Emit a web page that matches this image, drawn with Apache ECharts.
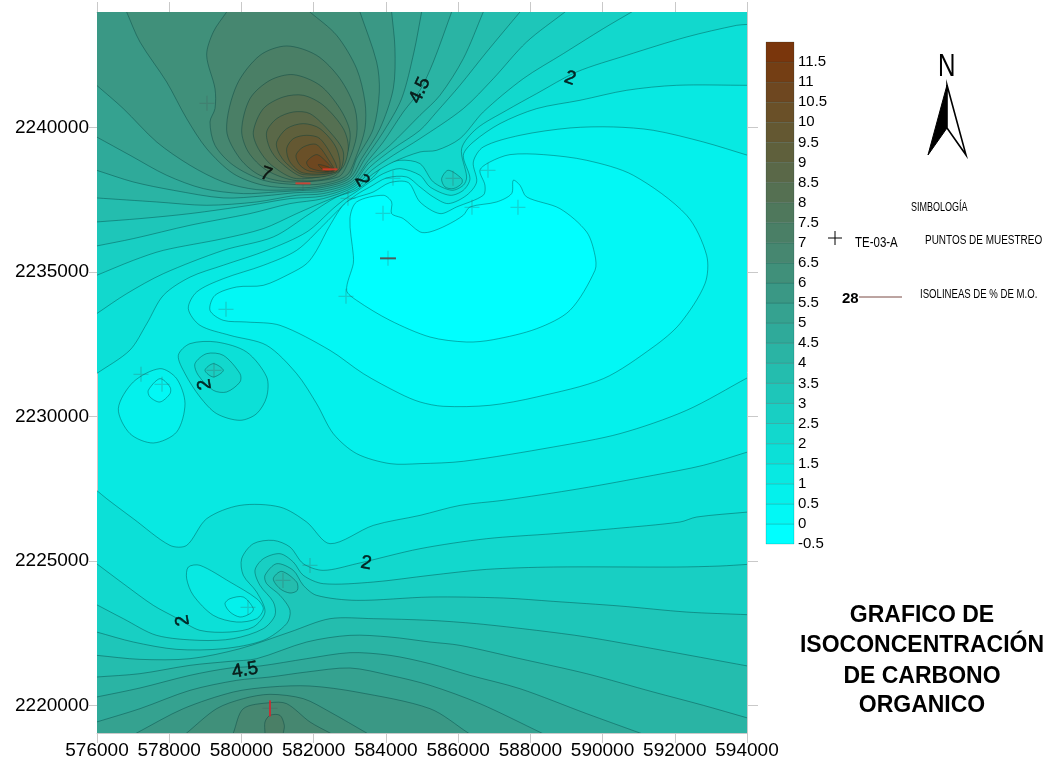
<!DOCTYPE html>
<html>
<head>
<meta charset="utf-8">
<title>Isoconcentracion de carbono organico</title>
<script src="https://cdn.jsdelivr.net/npm/echarts@6/dist/echarts.min.js"></script>
<style>
html, body { margin: 0; padding: 0; background: #fff; }
#main { width: 1048px; height: 763px; }
</style>
</head>
<body>
<div id="main"></div>
<script>
// axis ranges and ticks
var xTicks = [576000, 578000, 580000, 582000, 584000, 586000, 588000, 590000, 592000, 594000];
var yTicks = [2220000, 2225000, 2230000, 2235000, 2240000];
var xMin = 576000, xMax = 594000, yMin = 2219046, yMax = 2243990;

// colour scale levels (lower edge of every band)
var bandLevels = [-0.5, 0, 0.5, 1, 1.5, 2, 2.5, 3, 3.5, 4, 4.5, 5, 5.5, 6, 6.5, 7, 7.5, 8, 8.5, 9, 9.5, 10, 10.5, 11, 11.5];
var bandColors = ['#00ffff', '#02f8f5', '#04f1ec', '#08e9e2', '#0ce0d7', '#12d8cd', '#18cfc3', '#1ec6b9', '#24bdae', '#2ab4a4',
    '#2faa9a', '#35a290', '#3a9885', '#40907a', '#468770', '#4a7f66', '#4f785c', '#557052', '#5a6848', '#5f603c',
    '#645832', '#6a5028', '#6e4720', '#743e14', '#7a360c'];

// isolines, [easting, northing]
var iso0 = [[589790,2235573],[589559,2236381],[588820,2237188],[587897,2237591],[587713,2237995],[587528,2238168],[587482,2237707],[587067,2237418],[586328,2237245],[586144,2236957],[585682,2236611],[585221,2236381],[584944,2236381],[584482,2236842],[584159,2237015],[584159,2237418],[583928,2237649],[583190,2237418],[583005,2236842],[583098,2235573],[583098,2235283],[582913,2234360],[583190,2234014],[584113,2233323],[585221,2232746],[586236,2232573],[586975,2232654],[588175,2233034],[589098,2233669],[589790,2235052]];
var iso05 = [[587436,2239056],[588359,2239056],[589559,2238860],[590851,2238341],[592328,2236957],[592882,2235573],[592836,2234591],[592143,2233207],[591405,2232400],[590021,2231305],[588175,2230671],[586882,2230383],[585590,2230348],[584944,2230498],[584390,2230786],[583375,2231478],[582452,2232285],[581067,2233150],[580144,2233265],[579498,2233323],[579129,2233669],[579267,2234187],[579867,2234476],[580606,2234533],[581344,2234937],[581806,2235283],[582082,2235744],[582452,2236611],[582913,2237418],[583652,2237764],[584113,2238087],[584621,2238087],[584944,2237418],[585498,2237015],[585959,2237245],[586697,2237649],[586743,2237995],[586605,2238514],[586882,2238802]];
var iso1 = [[594017,2239033],[592789,2239494],[591405,2239897],[590297,2240013],[589097,2239978],[587713,2239724],[586697,2239321],[586421,2238802],[586513,2238110],[586236,2237649],[585728,2237361],[585313,2237591],[584944,2237937],[584574,2238283],[584021,2238249],[583559,2237937],[583190,2237672],[582821,2237303],[582267,2236611],[581529,2235744],[580606,2235225],[579498,2234764],[578760,2234303],[578529,2233726],[578852,2233150],[579683,2232804],[580698,2232458],[581529,2231478],[582082,2230440],[582544,2229402],[583190,2228711],[584113,2228365],[584944,2228365],[586144,2228446],[588636,2228941],[590482,2229403],[592328,2230210],[594017,2231340]];
var iso15North = [[575990,2231480],[576910,2232290],[577380,2233210],[577840,2234190],[578580,2234820],[579500,2235230],[580700,2235740],[581810,2236380],[582540,2237190],[582821,2237476],[583172,2237764],[583559,2238110],[583928,2238398],[584390,2238571],[584944,2238341],[585221,2237937],[585774,2237649],[586144,2237822],[586328,2238225],[586144,2239033],[586421,2239494],[587159,2240128],[588174,2240647],[589374,2240935],[590666,2241281],[592051,2241454],[594017,2241454]];
var iso15South = [[575990,2227440],[576268,2227152],[577006,2226460],[578021,2225537],[578483,2225537],[579037,2226460],[579960,2226921],[581067,2226863],[581806,2226345],[582452,2225595],[583652,2226229],[584944,2226575],[586052,2226921],[587252,2227097],[589374,2227500],[591405,2227961],[592790,2228307],[594017,2228768]];
var iso2North = [[575990,2233553],[576821,2234245],[577837,2234937],[579498,2235744],[580883,2236208],[581898,2237015],[582636,2237591],[583162,2237822],[583652,2238283],[583928,2238663],[584390,2238860],[584944,2238744],[585313,2238110],[585821,2237822],[586144,2237995],[586236,2238283],[586098,2239263],[586513,2239955],[587344,2240589],[588174,2241166],[589282,2241915],[590666,2242491],[592328,2243126],[593712,2243529],[594017,2243560]];
var iso2South = [[575990,2224903],[576729,2224212],[577560,2223462],[578206,2223024],[578852,2222597],[579683,2222540],[580329,2222713],[580652,2223232],[580421,2223923],[580052,2224500],[580006,2225076],[580329,2225595],[580883,2225710],[581344,2225480],[581713,2224903],[582267,2224673],[583190,2224903],[584944,2225422],[586790,2225768],[588636,2225941],[590297,2226114],[592143,2226345],[592605,2226518],[594017,2226690]];
var iso25North = [[575990,2234879],[577006,2235398],[577837,2235744],[579498,2236150],[580606,2236496],[581529,2237015],[582267,2237418],[583144,2237880],[583652,2238398],[584205,2238802],[584944,2239148],[585405,2239205],[586051,2239609],[586697,2240531],[587805,2241684],[588913,2242549],[590020,2243414],[590805,2243990]];
var iso25South = [[575990,2223485],[576729,2223001],[577652,2222424],[578852,2222251],[579775,2222309],[580606,2222655],[580929,2223116],[580883,2223577],[580513,2224154],[580375,2224673],[580606,2225076],[581067,2225249],[581436,2224961],[581713,2224500],[582267,2224212],[583652,2224269],[585221,2224500],[586790,2224707],[588636,2224788],[592051,2224788],[593251,2224823],[594017,2224880]];
var iso3North = [[575990,2235896],[577006,2236150],[578575,2236611],[580236,2237015],[581344,2237361],[582267,2237534],[583116,2237937],[583605,2238514],[584205,2239033],[584944,2239609],[586144,2240647],[586974,2241684],[587897,2242953],[588959,2243990]];
var iso3South = [[575990,2222540],[577006,2222194],[578206,2221940],[579498,2221963],[580606,2222251],[581252,2222828],[581344,2223289],[581067,2223808],[580698,2224212],[580652,2224500],[580975,2224903],[581436,2224673],[581713,2224154],[582082,2223808],[583190,2223635],[585221,2223750],[587252,2223716],[588636,2223600],[590482,2223439],[592328,2223231],[594017,2223139]];
var iso35North = [[575990,2236726],[577190,2236842],[578575,2237015],[580236,2237303],[581344,2237534],[582267,2237626],[583098,2237995],[583559,2238629],[584205,2239263],[584944,2239897],[585405,2240531],[586051,2241454],[586790,2242607],[587713,2243990]];
var iso35South = [[575990,2221733],[577190,2221594],[578575,2221617],[579960,2221963],[581344,2222540],[582452,2223001],[583652,2223001],[585221,2222943],[586513,2222828],[588175,2222597],[589559,2222367],[591405,2221963],[594017,2221364]];
var iso4North = [[575990,2237557],[577652,2237418],[579037,2237303],[580421,2237418],[581529,2237649],[582267,2237707],[583079,2238053],[583513,2238744],[584113,2239378],[584944,2240416],[585498,2241108],[586144,2242376],[586697,2243990]];
var iso4South = [[575990,2220983],[577190,2221099],[578575,2221387],[579683,2221525],[580421,2221617],[581806,2222194],[583005,2222425],[584113,2222367],[585221,2222194],[586052,2222078],[587713,2221617],[589559,2221098],[591405,2220464],[592790,2220003],[594017,2219565]];
var iso45North = [[575990,2238514],[577006,2238110],[578114,2237822],[579498,2237557],[580606,2237626],[581529,2237741],[582267,2237787],[583052,2238110],[583513,2238860],[583928,2239494],[584482,2240531],[584944,2241281],[585313,2242261],[585821,2243990]];
var iso45South = [[575990,2220291],[577190,2220603],[578575,2221041],[579683,2221294],[580513,2221364],[581806,2221617],[583005,2221825],[584113,2221733],[585221,2221444],[586329,2221041],[587713,2220579],[589559,2219715],[591036,2219046]];
var iso5North = [[575990,2239667],[576914,2239033],[577929,2238341],[578944,2237880],[580052,2237707],[580975,2237764],[581806,2237822],[582267,2237856],[583024,2238168],[583421,2238917],[583928,2239840],[584436,2240993],[584778,2242607],[584990,2243990]];
var iso5South = [[575990,2219427],[577190,2219888],[578575,2220522],[579867,2220868],[580790,2220983],[581806,2221156],[583005,2221295],[584113,2221041],[585221,2220695],[586605,2220061],[588313,2219046]];
var iso55North = [[575990,2241454],[576729,2240647],[577652,2239494],[578575,2238687],[579498,2238110],[580421,2237845],[581529,2237845],[582267,2237926],[582987,2238225],[583328,2238917],[583836,2239955],[584205,2241338],[584251,2242722],[584159,2243990]];
var iso55South = [[577098,2219046],[578390,2219888],[579775,2220464],[580790,2220637],[581898,2220672],[583190,2220464],[585221,2219888],[586282,2219046]];
var iso6North = [[576821,2243990],[577190,2242953],[577929,2241569],[578483,2240301],[579037,2239263],[579775,2238398],[580606,2237995],[581529,2237903],[582267,2237983],[582959,2238283],[583190,2238917],[583652,2239955],[583818,2241223],[583744,2242261],[583282,2243990]];
var iso6South = [[578483,2219046],[579313,2219888],[580052,2220234],[580790,2220384],[581713,2220234],[582452,2219772],[583467,2219046]];
var iso65North = [[579590,2243990],[579221,2243299],[579037,2242491],[579267,2241339],[579267,2240647],[579129,2240185],[579267,2239378],[579775,2238687],[580606,2238168],[581529,2238018],[582267,2238052],[582913,2238341],[583190,2239033],[583421,2239955],[583421,2240877],[583190,2242030],[582636,2243183],[581898,2243990]];
var iso65South = [[579775,2219046],[580052,2219888],[580790,2220095],[581252,2220061],[581898,2219427],[582452,2219046]];
var iso7North = [[579590,2239897],[579867,2241454],[580513,2242491],[581252,2242814],[582082,2242491],[582729,2241684],[583144,2240647],[583190,2239724],[582959,2238802],[582682,2238283],[581344,2238110],[580513,2238341],[579960,2238917]];
var iso7South = [[580652,2219046],[580652,2219427],[580790,2219657],[581067,2219657],[581187,2219311],[581159,2219046]];
var iso75 = [[580006,2239897],[580236,2240993],[580790,2241627],[581436,2241823],[582175,2241454],[582729,2240647],[583005,2239840],[582913,2239033],[582590,2238318],[581529,2238156],[580698,2238514],[580190,2239148]];
var iso8 = [[580329,2239840],[580606,2240647],[581159,2241050],[581713,2241108],[582267,2240762],[582821,2239955],[582959,2239263],[582729,2238514],[581529,2238225],[580836,2238687],[580467,2239263]];
var iso85 = [[580698,2239840],[580975,2240301],[581436,2240531],[581898,2240474],[582452,2239840],[582821,2239148],[582682,2238456],[581713,2238283],[581067,2238802],[580790,2239263]];
var iso9 = [[580975,2239494],[581252,2239955],[581713,2240128],[582175,2239955],[582636,2239263],[582682,2238514],[581713,2238364],[581252,2238744],[581021,2239148]];
var iso95 = [[581252,2239263],[581436,2239609],[581806,2239724],[582175,2239609],[582590,2238802],[582618,2238456],[581713,2238421],[581344,2238802]];
var iso10 = [[581510,2239033],[581713,2239321],[582082,2239401],[582452,2238802],[582562,2238479],[581898,2238479],[581621,2238687]];
var iso105 = [[581806,2238802],[582082,2239056],[582359,2238802],[582544,2238514],[582267,2238479],[581898,2238594]];
var iso11 = [[582129,2238710],[582405,2238629],[582544,2238514],[582313,2238491]];

// closed pockets
var pocketA15 = [[578252,2232112],[578575,2232516],[579313,2232573],[580144,2232227],[580698,2231363],[580698,2230671],[580421,2230094],[579960,2229864],[579313,2230094],[578852,2230671],[578437,2231478]];
var pocketA2 = [[578713,2231824],[579037,2232170],[579498,2232112],[579960,2231478],[579960,2231190],[579590,2230844],[579221,2230901],[578806,2231420]];
var pocketA25 = [[578990,2231593],[579221,2231824],[579498,2231593],[579221,2231363]];
var pocketB1 = [[576591,2230267],[577006,2231190],[577744,2231651],[578206,2231305],[578437,2230440],[578206,2229460],[577560,2229080],[576914,2229402]];
var pocketB05 = [[577421,2230901],[577744,2231305],[578021,2231017],[578021,2230786],[577744,2230498],[577467,2230671]];
var pocketC15 = [[578529,2224788],[578852,2224846],[579683,2224269],[580421,2223693],[580606,2223347],[580421,2223001],[579867,2222886],[579221,2223116],[578667,2223808],[578483,2224385]];
var pocketC1 = [[579544,2223520],[579683,2223693],[580052,2223750],[580329,2223347],[580236,2223174],[579960,2223059],[579683,2223232]];
var pocketD25 = [[585544,2238225],[585728,2238514],[586098,2238225],[586098,2238052],[585867,2237880],[585636,2237937]];
var pocketE35 = [[580883,2224385],[581113,2224638],[581529,2224269],[581547,2223981],[581344,2223889],[581067,2224039]];

// sampling points
var samplePoints = [[579046,2240830],[584196,2238235],[582950,2237543],[583920,2237024],[584058,2235467],[582895,2234153],[579572,2233703],[577218,2231454],[577800,2231108],[579240,2231592],[585858,2238235],[586827,2238512],[586384,2237232],[587657,2237232],[581898,2224845],[581150,2224326],[580181,2223392],[580790,2219897],[581704,2238062],[582452,2238547]];
var redDashH = [[581704,2238062],[582452,2238547]];
var redDashV = [[580790,2219897]];
var darkDash = [[584058,2235467]];

// contour labels
var labelPoints = [[589097,2241695],[584944,2241280],[580680,2238374],[583338,2238166],[578990,2231108],[583449,2224914],[578381,2222942],[580098,2221213]];
var labelTexts = ['2', '4.5', '7', '2', '2', '2', '2', '4.5'];
var labelAngles = [-20, 65, -20, -60, 100, -10, 100, 10];

var outTop = [[600000,2250000],[570000,2250000]];
var outBottom = [[600000,2210000],[570000,2210000]];
var outRight = [[600000,2225000],[600000,2245000]];

function colorAt(level) {
    return bandColors[bandLevels.indexOf(level)];
}

// run an open isoline on past the frame, so the closing part of the ring stays hidden by the clip
function pastFrame(line) {
    function tail(a, b) {
        var dx = a[0] - b[0], dy = a[1] - b[1], len = Math.sqrt(dx * dx + dy * dy);
        return [a[0] + dx / len * 2000, a[1] + dy / len * 2000];
    }
    return [tail(line[0], line[1])].concat(line, [tail(line[line.length - 1], line[line.length - 2])]);
}

// painted in order. the grid background is the 1 - 1.5 band
var rings = [
    { fill: 0.5, pts: pastFrame(iso1).concat(outRight) },
    { fill: 0.5, pts: pocketB1 },
    { fill: 0, pts: iso05 },
    { fill: 0, pts: pocketB05 },
    { fill: -0.5, pts: iso0 },
    { fill: 1.5, pts: pastFrame(iso15North).concat(outTop) },
    { fill: 1.5, pts: pastFrame(iso15South).concat(outBottom) },
    { fill: 1.5, pts: pocketA15 },
    { fill: 1, pts: pocketC15 },
    { fill: 0.5, pts: pocketC1 },
    { fill: 2, pts: pastFrame(iso2North).concat(outTop) },
    { fill: 2, pts: pastFrame(iso2South).concat(outBottom) },
    { fill: 2, pts: pocketA2 },
    { fill: 2.5, pts: pastFrame(iso25North).concat(outTop) },
    { fill: 2.5, pts: pastFrame(iso25South).concat(outBottom) },
    { fill: 2.5, pts: pocketA25 },
    { fill: 2.5, pts: pocketD25 },
    { fill: 3, pts: pastFrame(iso3North).concat(outTop) },
    { fill: 3, pts: pastFrame(iso3South).concat(outBottom) },
    { fill: 3.5, pts: pastFrame(iso35North).concat(outTop) },
    { fill: 3.5, pts: pastFrame(iso35South).concat(outBottom) },
    { fill: 3.5, pts: pocketE35 },
    { fill: 4, pts: pastFrame(iso4North).concat(outTop) },
    { fill: 4, pts: pastFrame(iso4South).concat(outBottom) },
    { fill: 4.5, pts: pastFrame(iso45North).concat(outTop) },
    { fill: 4.5, pts: pastFrame(iso45South).concat(outBottom) },
    { fill: 5, pts: pastFrame(iso5North).concat(outTop) },
    { fill: 5, pts: pastFrame(iso5South).concat(outBottom) },
    { fill: 5.5, pts: pastFrame(iso55North).concat(outTop) },
    { fill: 5.5, pts: pastFrame(iso55South).concat(outBottom) },
    { fill: 6, pts: pastFrame(iso6North).concat(outTop) },
    { fill: 6, pts: pastFrame(iso6South).concat(outBottom) },
    { fill: 6.5, pts: pastFrame(iso65North).concat(outTop) },
    { fill: 6.5, pts: pastFrame(iso65South).concat(outBottom) },
    { fill: 7, pts: iso7North },
    { fill: 7, pts: pastFrame(iso7South).concat(outBottom) },
    { fill: 7.5, pts: iso75 },
    { fill: 8, pts: iso8 },
    { fill: 8.5, pts: iso85 },
    { fill: 9, pts: iso9 },
    { fill: 9.5, pts: iso95 },
    { fill: 10, pts: iso10 },
    { fill: 10.5, pts: iso105 },
    { fill: 11, pts: iso11 }
];

var chartDom = document.getElementById('main');
var myChart = echarts.init(chartDom);

var axisGrey = { lineStyle: { color: '#c9c9c9', width: 1 } };
var tickFont = { color: '#000', fontFamily: 'Liberation Sans', fontSize: 19 };
var crossPath = 'path://M5 0h1v11h-1zM0 5h11v1H0z';

// legend text in the reference is squeezed horizontally
function narrowText(text, x, y, size, squeeze, weight) {
    return {
        type: 'text',
        x: x,
        y: y,
        scaleX: squeeze,
        style: {
            text: text, fill: '#000',
            font: (weight || 'normal') + ' ' + size + 'px "Liberation Sans", sans-serif',
            textVerticalAlign: 'middle'
        }
    };
}

function titleLine(text, y) {
    return {
        type: 'text',
        style: {
            text: text, x: 922, y: y, fill: '#000',
            font: 'bold 23px "Liberation Sans"',
            textAlign: 'center', textVerticalAlign: 'middle'
        }
    };
}

function plainNumber(v) {
    return String(v);
}

var option = {
    animation: false,
    backgroundColor: '#fff',
    grid: [
        { left: 97, top: 12, width: 650, height: 721, show: true, backgroundColor: colorAt(1), borderWidth: 0 },
        { left: 766, top: 42, width: 28, height: 502 }
    ],
    xAxis: [
        {
            type: 'value', gridIndex: 0, min: xMin, max: xMax, interval: 2000, position: 'bottom',
            splitLine: { show: false },
            axisLine: axisGrey,
            axisTick: { length: 10, lineStyle: axisGrey.lineStyle },
            axisLabel: Object.assign({ margin: 8, hideOverlap: false, showMinLabel: true, showMaxLabel: true, formatter: plainNumber }, tickFont)
        },
        {
            type: 'value', gridIndex: 0, min: xMin, max: xMax, interval: 2000, position: 'top',
            splitLine: { show: false },
            axisLine: axisGrey,
            axisTick: { length: 10, lineStyle: axisGrey.lineStyle },
            axisLabel: { show: false }
        },
        { type: 'value', gridIndex: 1, min: 0, max: 1, show: false }
    ],
    yAxis: [
        {
            type: 'value', gridIndex: 0, min: yMin, max: yMax, position: 'left',
            splitLine: { show: false },
            axisLine: axisGrey,
            axisTick: { length: 8, customValues: yTicks, lineStyle: axisGrey.lineStyle },
            axisLabel: Object.assign({ margin: 8, customValues: yTicks, formatter: plainNumber }, tickFont)
        },
        {
            type: 'value', gridIndex: 0, min: yMin, max: yMax, position: 'right',
            splitLine: { show: false },
            axisLine: axisGrey,
            axisTick: { length: 11, customValues: yTicks, lineStyle: axisGrey.lineStyle },
            axisLabel: { show: false }
        },
        {
            type: 'value', gridIndex: 1, min: -0.5, max: 12, interval: 0.5, position: 'right',
            splitLine: { show: false },
            axisLine: { show: false },
            axisTick: { show: false },
            axisLabel: {
                margin: 4, color: '#000', fontFamily: 'Liberation Sans', fontSize: 15,
                showMaxLabel: false, hideOverlap: false,
                formatter: function (v) { return v === 12 ? '' : String(v); }
            }
        }
    ],
    series: [
        {
            // filled contours
            type: 'custom',
            xAxisIndex: 0,
            yAxisIndex: 0,
            clip: true,
            z: 1,
            data: rings.map(function (r, i) { return [i]; }),
            encode: { x: -1, y: -1 },
            renderItem: function (params, api) {
                var ring = rings[api.value(0)];
                return {
                    type: 'polygon',
                    shape: { points: ring.pts.map(function (p) { return api.coord(p); }), smooth: 0.3 },
                    style: { fill: colorAt(ring.fill), stroke: 'rgba(0,60,60,0.5)', lineWidth: 0.8 }
                };
            }
        },
        {
            type: 'scatter', name: 'puntos', xAxisIndex: 0, yAxisIndex: 0, z: 3,
            symbol: crossPath, symbolSize: 15,
            itemStyle: { color: 'rgba(70,90,90,0.32)' },
            data: samplePoints
        },
        {
            type: 'scatter', xAxisIndex: 0, yAxisIndex: 0, z: 4,
            symbol: 'rect', symbolSize: [15, 2],
            itemStyle: { color: '#e53a2c' },
            data: redDashH
        },
        {
            type: 'scatter', xAxisIndex: 0, yAxisIndex: 0, z: 4,
            symbol: 'rect', symbolSize: [2, 16],
            itemStyle: { color: '#e0202c' },
            data: redDashV
        },
        {
            type: 'scatter', xAxisIndex: 0, yAxisIndex: 0, z: 4,
            symbol: 'rect', symbolSize: [16, 2],
            itemStyle: { color: '#5a4040' },
            data: darkDash
        },
        {
            // labels written on the isolines
            type: 'scatter', xAxisIndex: 0, yAxisIndex: 0, z: 5,
            symbolSize: 0,
            data: labelPoints.map(function (p, i) {
                return {
                    value: p,
                    label: {
                        show: true, position: 'inside', formatter: labelTexts[i], rotate: labelAngles[i],
                        color: '#000', fontFamily: 'Liberation Sans', fontSize: 19,
                        textBorderColor: '#000', textBorderWidth: 0.5
                    }
                };
            })
        },
        {
            // colour scale
            type: 'custom',
            xAxisIndex: 2,
            yAxisIndex: 2,
            z: 1,
            data: bandLevels.map(function (l) { return [l]; }),
            encode: { x: -1, y: 0 },
            renderItem: function (params, api) {
                var level = api.value(0);
                var a = api.coord([0, level + 0.5]);
                var b = api.coord([1, level]);
                return {
                    type: 'rect',
                    shape: { x: a[0], y: a[1], width: b[0] - a[0], height: b[1] - a[1] },
                    style: { fill: colorAt(level), stroke: 'rgba(0,50,50,0.3)', lineWidth: 0.6 }
                };
            }
        }
    ],
    graphic: [
        narrowText('N', 938, 67, 31, 0.78),
        {
            type: 'polygon',
            shape: { points: [[947, 85], [928, 155], [947, 128]] },
            style: { fill: '#000', stroke: '#000', lineWidth: 1 }
        },
        {
            type: 'polygon',
            shape: { points: [[947, 85], [966, 155], [947, 128]] },
            style: { fill: '#fff', stroke: '#000', lineWidth: 1.6 }
        },
        narrowText('SIMBOLOGÍA', 911, 208, 12, 0.75),
        { type: 'line', shape: { x1: 828, y1: 238, x2: 842, y2: 238 }, style: { stroke: '#000', lineWidth: 1 } },
        { type: 'line', shape: { x1: 835, y1: 231, x2: 835, y2: 245 }, style: { stroke: '#000', lineWidth: 1 } },
        narrowText('TE-03-A', 855, 243, 14, 0.82),
        narrowText('PUNTOS DE MUESTREO', 925, 241, 12, 0.83),
        narrowText('28', 842, 299, 15, 1, 'bold'),
        { type: 'line', shape: { x1: 859, y1: 297, x2: 902, y2: 297 }, style: { stroke: '#7a4a45', lineWidth: 1 } },
        narrowText('ISOLINEAS DE % DE M.O.', 920, 295, 12, 0.8),
        titleLine('GRAFICO DE', 616),
        titleLine('ISOCONCENTRACIÓN', 646),
        titleLine('DE CARBONO', 677),
        titleLine('ORGANICO', 706)
    ]
};

option && myChart.setOption(option);
</script>
</body>
</html>
